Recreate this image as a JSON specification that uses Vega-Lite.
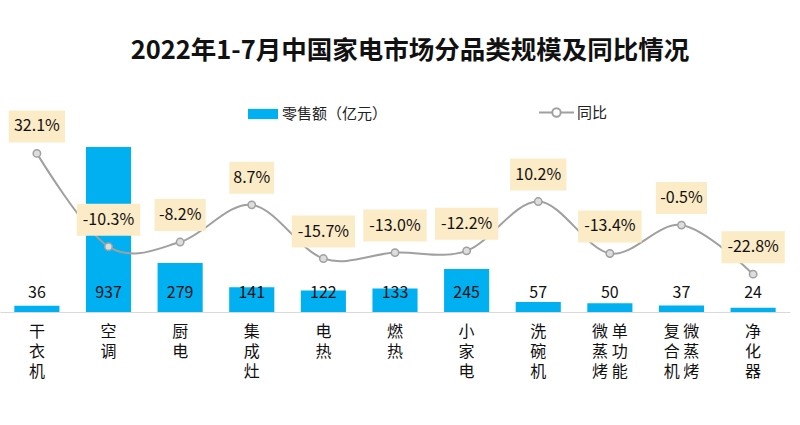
{
  "$schema": "https://vega.github.io/schema/vega-lite/v6.json",
  "width": 790,
  "height": 176,
  "autosize": {"type": "none"},
  "padding": {"left": 0, "top": 136, "right": 10, "bottom": 113},
  "background": "#FFFFFF",
  "title": {
    "text": "2022年1-7月中国家电市场分品类规模及同比情况",
    "font": "Noto Sans CJK SC",
    "fontSize": 25.5,
    "fontWeight": "bold",
    "color": "#111111",
    "anchor": "middle",
    "dx": 15,
    "offset": 30
  },
  "data": {
    "values": [
      {"cat": "干衣机", "sales": 36, "yoy": 32.1},
      {"cat": "空调", "sales": 937, "yoy": -10.3},
      {"cat": "厨电", "sales": 279, "yoy": -8.2},
      {"cat": "集成灶", "sales": 141, "yoy": 8.7},
      {"cat": "电热", "sales": 122, "yoy": -15.7},
      {"cat": "燃热", "sales": 133, "yoy": -13.0},
      {"cat": "小家电", "sales": 245, "yoy": -12.2},
      {"cat": "洗碗机", "sales": 57, "yoy": 10.2},
      {"cat": "微蒸烤单功能", "sales": 50, "yoy": -13.4},
      {"cat": "复合机微蒸烤", "sales": 37, "yoy": -0.5},
      {"cat": "净化器", "sales": 24, "yoy": -22.8}
    ]
  },
  "encoding": {
    "x": {
      "field": "cat",
      "type": "nominal",
      "sort": null,
      "scale": {"paddingInner": 0.37, "paddingOuter": 0.2},
      "axis": {
        "title": null,
        "labelAngle": 0,
        "ticks": false,
        "domainColor": "#D9D9D9",
        "domainWidth": 1,
        "labelFont": "Noto Sans CJK SC",
        "labelFontSize": 16,
        "labelColor": "#111111",
        "labelLineHeight": 20,
        "labelBaseline": "top",
        "labelPadding": 11,
        "labelExpr": "datum.value == '微蒸烤单功能' ? ['微 单', '蒸 功', '烤 能'] : (datum.value == '复合机微蒸烤' ? ['复 微', '合 蒸', '机 烤'] : split(datum.value, ''))"
      }
    }
  },
  "layer": [
    {
      "layer": [
        {
          "mark": {"type": "bar"},
          "encoding": {
            "y": {"field": "sales", "type": "quantitative", "scale": {"domain": [0, 1000]}, "axis": null},
            "color": {
              "datum": "零售额（亿元）",
              "type": "nominal",
              "scale": {"range": ["#00B0F0"]},
              "legend": {
                "orient": "none",
                "legendX": 248,
                "legendY": -37,
                "title": null,
                "padding": 0,
                "symbolType": "M-1,-0.34H1V0.34H-1Z",
                "symbolSize": 900,
                "symbolStrokeWidth": 0,
                "symbolOpacity": 1,
                "labelFont": "Noto Sans CJK SC",
                "labelFontSize": 15,
                "labelColor": "#222222",
                "labelOffset": 4
              }
            }
          }
        },
        {
          "mark": {"type": "text", "font": "Noto Sans CJK SC", "fontSize": 16, "color": "#111111", "baseline": "middle"},
          "encoding": {
            "y": {"datum": 110, "type": "quantitative", "scale": {"domain": [0, 1000]}, "axis": null},
            "text": {"field": "sales", "type": "quantitative"}
          }
        }
      ]
    },
    {
      "layer": [
        {
          "mark": {"type": "line", "interpolate": "cardinal", "strokeWidth": 2},
          "encoding": {
            "y": {"field": "yoy", "type": "quantitative", "scale": {"domain": [-40, 40]}, "axis": null},
            "stroke": {
              "datum": "同比",
              "type": "nominal",
              "scale": {"range": ["#A0A0A0"]},
              "legend": {
                "orient": "none",
                "legendX": 538,
                "legendY": -42,
                "title": null,
                "padding": 0,
                "symbolType": "M-1,0H-0.24M0.24,0H1M0.24,0A0.24,0.24 0 1 1 -0.24,0A0.24,0.24 0 1 1 0.24,0",
                "symbolSize": 1225,
                "symbolStrokeWidth": 2,
                "symbolFillColor": "#FFFFFF",
                "labelFont": "Noto Sans CJK SC",
                "labelFontSize": 15,
                "labelColor": "#222222",
                "labelOffset": 2
              }
            }
          }
        },
        {
          "mark": {"type": "point", "filled": true, "fill": "#DDDDDD", "stroke": "#A0A0A0", "strokeWidth": 1.5, "size": 55, "opacity": 1},
          "encoding": {
            "y": {"field": "yoy", "type": "quantitative", "scale": {"domain": [-40, 40]}, "axis": null}
          }
        },
        {
          "mark": {"type": "point", "filled": true, "fill": "#FBEBC6", "strokeWidth": 0, "size": 4096, "opacity": 1, "yOffset": -27},
          "encoding": {
            "y": {"field": "yoy", "type": "quantitative", "scale": {"domain": [-40, 40]}, "axis": null},
            "shape": {
              "condition": [
                {"test": "datum.yoy >= 0 && datum.yoy < 10", "value": "M-0.7,-0.5H0.7V0.5H-0.7Z"},
                {"test": "datum.yoy < 0 && datum.yoy > -10", "value": "M-0.8,-0.5H0.8V0.5H-0.8Z"},
                {"test": "datum.yoy >= 10", "value": "M-0.88,-0.5H0.88V0.5H-0.88Z"}
              ],
              "value": "M-0.99,-0.5H0.99V0.5H-0.99Z"
            }
          }
        },
        {
          "mark": {
            "type": "text",
            "font": "Noto Sans CJK SC",
            "fontSize": 16,
            "color": "#111111",
            "baseline": "middle",
            "dy": -27,
            "text": {"expr": "replace(format(datum.yoy, '.1f'), '−', '-') + '%'"}
          },
          "encoding": {
            "y": {"field": "yoy", "type": "quantitative", "scale": {"domain": [-40, 40]}, "axis": null}
          }
        }
      ]
    }
  ],
  "resolve": {"scale": {"y": "independent"}},
  "config": {
    "view": {"stroke": null},
    "axis": {"grid": false}
  }
}
